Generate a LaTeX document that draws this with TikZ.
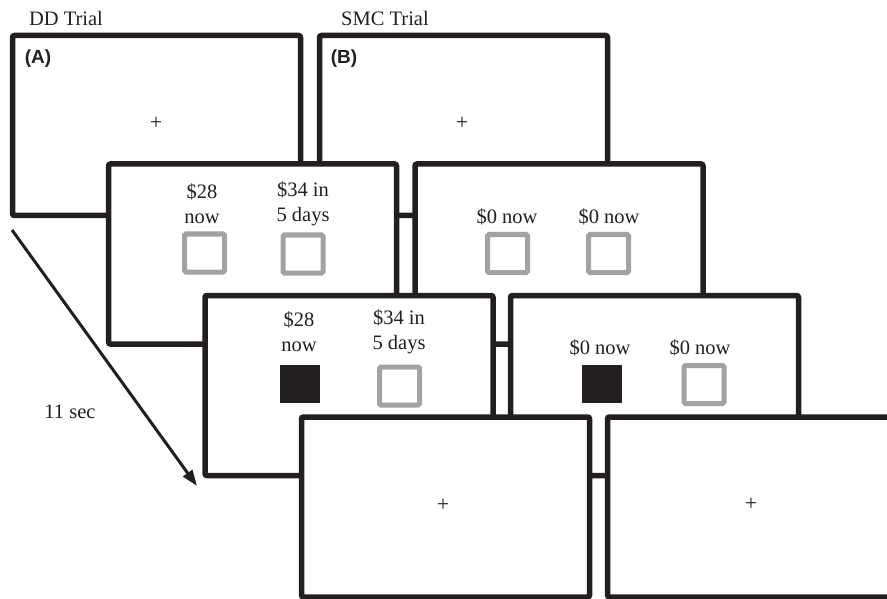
\documentclass[tikz,border=0pt]{standalone}
\usepackage{fontspec}
\setmainfont{Liberation Serif}
\setsansfont{Liberation Sans}
\usetikzlibrary{arrows.meta}
\definecolor{ink}{HTML}{231F20}
\definecolor{boxgray}{HTML}{A2A2A4}
\begin{document}
\begin{tikzpicture}[x=1pt,y=-1pt,
  screen/.style={draw=ink, fill=white, line width=5.5pt, rounded corners=2pt,
    minimum width=288pt, minimum height=180pt, inner sep=0pt, outer sep=0pt},
  lbl/.style={font=\fontsize{20.5}{25}\selectfont, text=ink, inner sep=0pt, align=center},
  panel/.style={font=\sffamily\bfseries\fontsize{19}{22}\selectfont, text=ink, inner sep=0pt},
  graybox/.style={draw=boxgray, fill=white, line width=5pt, rounded corners=1.5pt,
    minimum width=40pt, minimum height=38pt, inner sep=0pt},
  blackbox/.style={fill=ink, minimum width=40pt, minimum height=38pt, inner sep=0pt},
  fix/.style={font=\fontsize{22}{26}\selectfont, text=ink, inner sep=0pt}
]
\useasboundingbox (0,0) rectangle (887,599);
\clip (0,0) rectangle (887,599);

% titles
\node[lbl] (ddt) at (66,18) {DD Trial};
\node[lbl] (smct) at (385,18) {SMC Trial};

% level 1
\node[screen] (a1) at (156.5,125.5) {};
\node[screen] (b1) at (463.5,125.5) {};
\node[panel] (la) at (38,59) {(A)};
\node[panel] (lb) at (344,59) {(B)};
\node[fix] (fa1) at (156,123) {+};
\node[fix] (fb1) at (462,123) {+};

% level 2
\node[screen] (a2) at (252.5,254) {};
\node[screen] (b2) at (559,254) {};
\node[lbl] (a2t1) at (202,203.5) {\$28\\now};
\node[lbl] (a2t2) at (303,203.5) {\$34 in\\5 days};
\node[graybox] (a2s1) at (204.5,253) {};
\node[graybox] (a2s2) at (303,254) {};
\node[lbl] (b2t1) at (507,217) {\$0 now};
\node[lbl] (b2t2) at (609,217) {\$0 now};
\node[graybox] (b2s1) at (507.5,253.5) {};
\node[graybox] (b2s2) at (608.5,253.5) {};

% level 3
\node[screen] (a3) at (349,385.5) {};
\node[screen] (b3) at (654.5,385.5) {};
\node[lbl] (a3t1) at (299,331.5) {\$28\\now};
\node[lbl] (a3t2) at (399,331.5) {\$34 in\\5 days};
\node[blackbox] (a3s1) at (300,384) {};
\node[graybox] (a3s2) at (399.5,386) {};
\node[lbl] (b3t1) at (600,348) {\$0 now};
\node[lbl] (b3t2) at (700,348) {\$0 now};
\node[blackbox] (b3s1) at (602,384) {};
\node[graybox] (b3s2) at (704,384.5) {};

% level 4
\node[screen] (a4) at (445.5,507) {};
\node[screen] (b4) at (751.5,507) {};
\node[fix] (fa4) at (443,505) {+};
\node[fix] (fb4) at (751,504) {+};

% time arrow
\coordinate (arrs) at (12,230);
\coordinate (arre) at (197,486);
\draw[draw=ink, line width=3pt, -{Triangle[length=16pt,width=11pt]}] (arrs) -- (arre);
\node[lbl] (sec) at (70,412) {11 sec};
\end{tikzpicture}
\end{document}
